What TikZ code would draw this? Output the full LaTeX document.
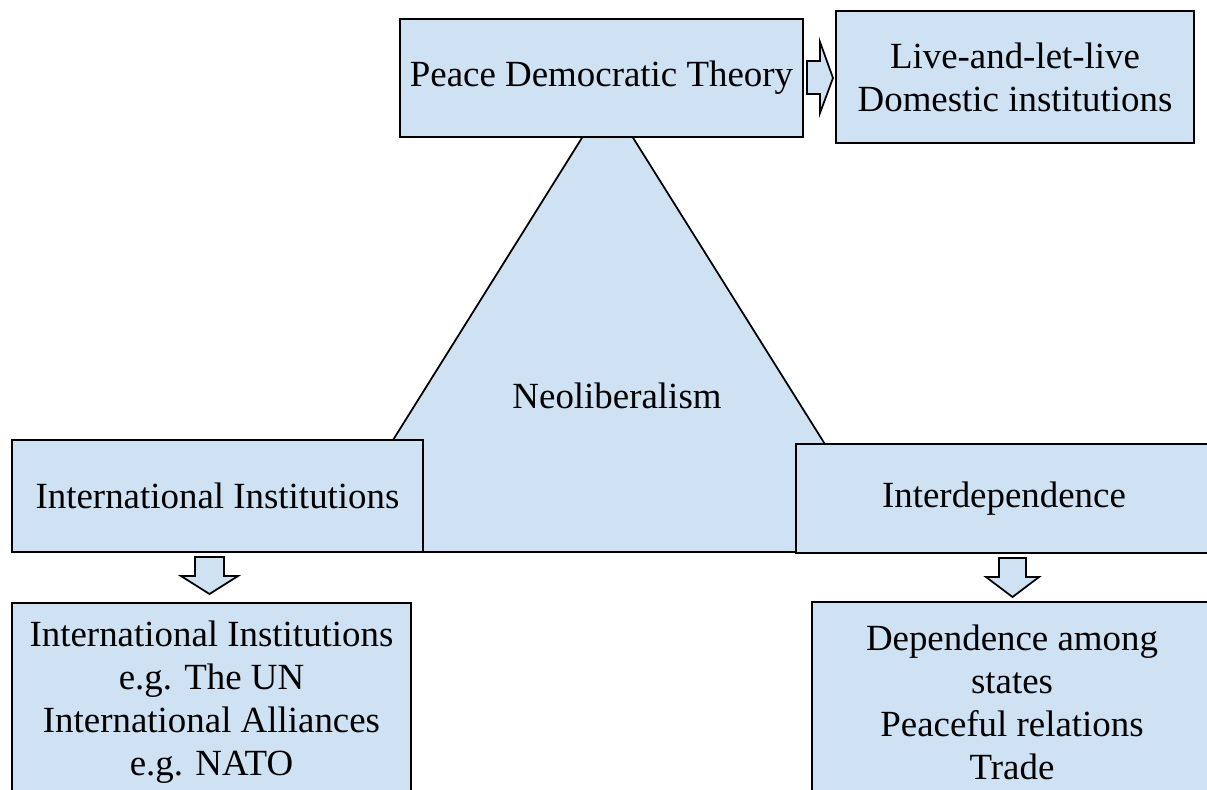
\documentclass[tikz,border=0pt]{standalone}
\usepackage{xcolor}
\usepackage{tikz}
\usepackage{fontspec}
\setmainfont{Liberation Serif}
\usetikzlibrary{shapes,arrows,positioning,calc}
\definecolor{boxblue}{RGB}{207,226,243}

\begin{document}
\begin{tikzpicture}[
    box/.style={draw,fill=boxblue,line width=1pt,rectangle,inner sep=0pt,align=center,
        font=\fontsize{21}{24.5}\selectfont},
    blockarrow/.style={draw,fill=boxblue,line width=1pt,line join=miter}]
    \useasboundingbox (0,0) rectangle (24.14,-15.78);

    % Neoliberalism triangle, behind the boxes
    \draw[fill=boxblue,line width=1pt] (12.15,-1.94) -- (6.46,-11.04) -- (17.85,-11.04) -- cycle;
    \node[font=\fontsize{21}{24.5}\selectfont] (neo) at (12.34,-7.92) {Neoliberalism};

    % top
    \node[box,minimum width=8.06cm,minimum height=2.36cm] (pdt) at (12.03,-1.56) {Peace Democratic Theory};
    \node[box,minimum width=7.16cm,minimum height=2.64cm] (live) at (20.30,-1.54) {Live-and-let-live\\Domestic institutions};
    \draw[blockarrow] (16.14,-1.22) -- (16.40,-1.22) -- (16.40,-0.84) -- (16.66,-1.56)
        -- (16.40,-2.26) -- (16.40,-1.88) -- (16.14,-1.88) -- cycle;

    % left corner
    \node[box,minimum width=8.22cm,minimum height=2.24cm] (inst) at (4.35,-9.92) {International Institutions};
    \draw[blockarrow] (3.90,-11.14) -- (4.48,-11.14) -- (4.48,-11.52) -- (4.76,-11.52)
        -- (4.19,-11.88) -- (3.62,-11.52) -- (3.90,-11.52) -- cycle;
    \node[box,minimum width=7.98cm,minimum height=3.98cm] (un) at (4.23,-14.05)
        {International Institutions\\e.g. The UN\\International Alliances\\e.g. NATO};

    % right corner
    \node[box,minimum width=8.32cm,minimum height=2.18cm] (inter) at (20.08,-9.97) {Interdependence};
    \draw[blockarrow] (19.98,-11.16) -- (20.52,-11.16) -- (20.52,-11.54) -- (20.78,-11.54)
        -- (20.25,-11.94) -- (19.72,-11.54) -- (19.98,-11.54) -- cycle;
    \node[box,minimum width=8.0cm,minimum height=4.0cm] (trade) at (20.24,-14.04)
        {Dependence among\\states\\Peaceful relations\\Trade};
\end{tikzpicture}
\end{document}
